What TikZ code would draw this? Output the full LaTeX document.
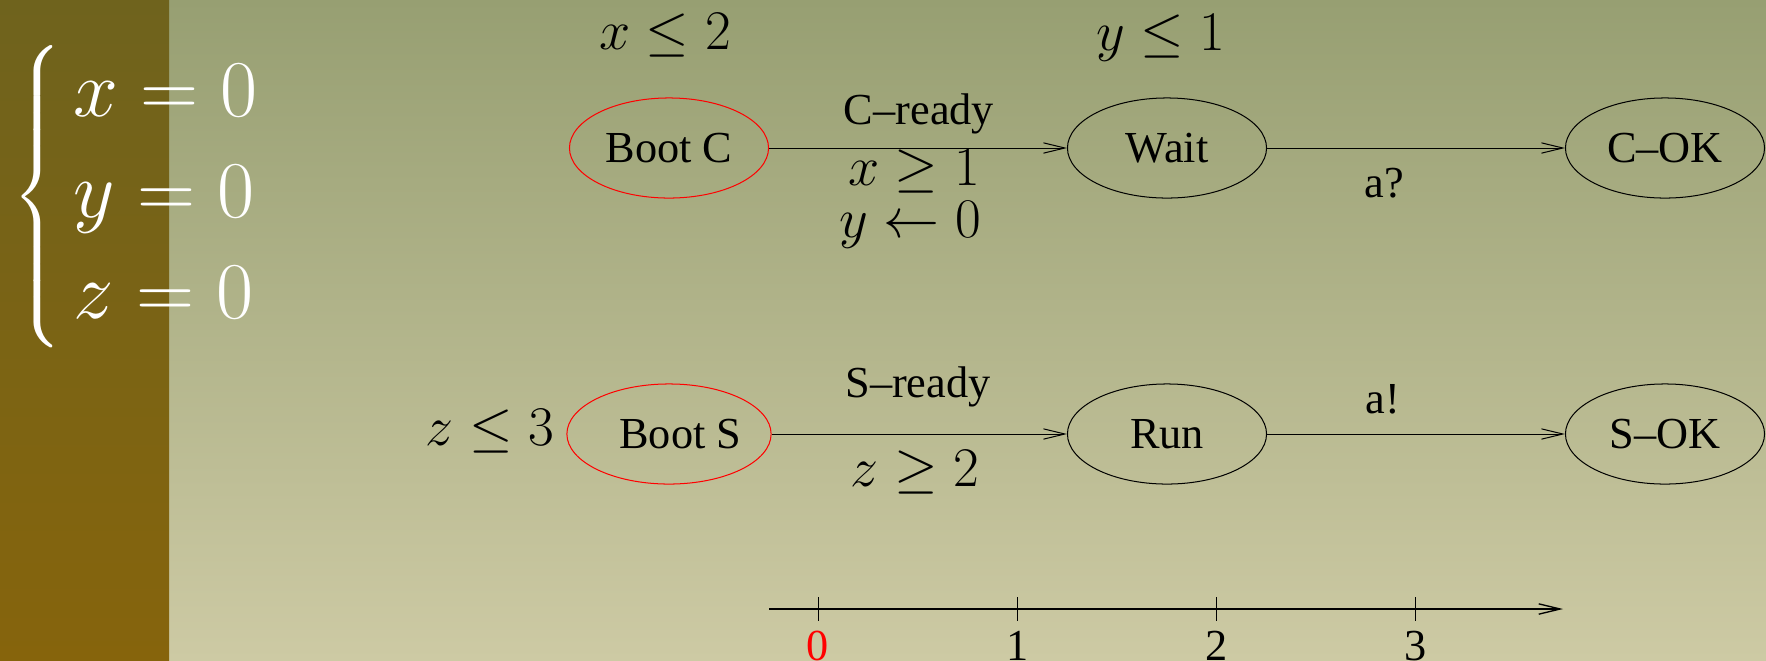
\RequirePackage{fix-cm}
\documentclass[tikz,border=0pt]{standalone}
\usepackage{amsmath}
\usepackage{fontspec}
\setmainfont{Liberation Serif}[Ligatures=TeX]
\usepackage{tikz}
\usetikzlibrary{shapes.geometric, arrows.meta}
\definecolor{bgtop}{RGB}{151,159,114}
\definecolor{bgbottom}{RGB}{205,202,164}
\definecolor{bartop}{RGB}{111,99,29}
\definecolor{barbottom}{RGB}{134,100,12}
\newcommand{\statefont}{\rmfamily\fontsize{19.7}{23}\selectfont}
\newcommand{\guardfont}{\fontsize{24.88}{30}\selectfont}
\newcommand{\clockfont}{\fontsize{35.83}{44.9}\selectfont}

\begin{document}
\begin{tikzpicture}[x=0.015625cm, y=-0.015625cm,
    state/.style={ellipse, draw, line width=0.45pt, minimum width=88.5pt,
        minimum height=44.5pt, inner sep=0pt, font=\statefont},
    initstate/.style={state, draw=red},
    edge/.style={line width=0.45pt, -{Straight Barb[length=9.5pt, width=4.6pt]}},
    guard/.style={inner sep=0pt, font=\guardfont},
    action/.style={inner sep=0pt, anchor=base, font=\statefont}]
    % background
    \shade[top color=bgtop, bottom color=bgbottom] (0,0) rectangle (1766,660);
    \shade[top color=bartop, bottom color=barbottom] (0,0) rectangle (169,660);
    \useasboundingbox (0,0) rectangle (1766,660);

    % initial clock values
    \node[anchor=west, inner sep=0pt, text=white, font=\clockfont] (clocks) at (12,197)
        {$\left\{\begin{array}{l} x=0\\ y=0\\ z=0\end{array}\right.$};

    % client automaton
    \node[initstate] (bootc) at (669,148) {Boot C};
    \node[state] (wait) at (1167,148) {Wait};
    \node[state] (cok) at (1665,148) {C--OK};
    \node[guard] (invbootc) at (665,35) {$x\leq 2$};
    \node[guard] (invwait) at (1161,38) {$y\leq 1$};
    \draw[edge] (bootc) -- (wait);
    \draw[edge] (wait) -- (cok);
    \node[action] (cready) at (919,124) {C--ready};
    \node[guard, anchor=base] (xguard) at (914,185) {$x\geq 1$};
    \node[guard, anchor=base] (yreset) at (910,237) {$y\leftarrow 0$};
    \node[action] (recv) at (1384,197) {a?};

    % server automaton
    \node[initstate] (boots) at (669,434) {\hspace*{10pt}Boot S};
    \node[state] (run) at (1167,434) {Run};
    \node[state] (sok) at (1665,434) {S--OK};
    \node[guard] (invboots) at (490,431) {$z\leq 3$};
    \draw[edge] (boots) -- (run);
    \draw[edge] (run) -- (sok);
    \node[action] (sready) at (918,397) {S--ready};
    \node[guard, anchor=base] (zguard) at (915,486) {$z\geq 2$};
    \node[action] (send) at (1383,413) {a!};

    % time axis
    \coordinate (axisstart) at (769,609);
    \coordinate (axisend) at (1563,609);
    \draw[edge, line width=0.6pt] (axisstart) -- (axisend);
    \foreach \i/\col in {0/red, 1/black, 2/black, 3/black}
    {
        \coordinate (tick\i) at ({818+199.3*\i},609);
        \draw[line width=0.45pt] (tick\i) ++(0,-12) -- ++(0,24);
        \node[action, text=\col] (ticklabel\i) at ({818+199.3*\i},660) {\i};
    }
\end{tikzpicture}
\end{document}
